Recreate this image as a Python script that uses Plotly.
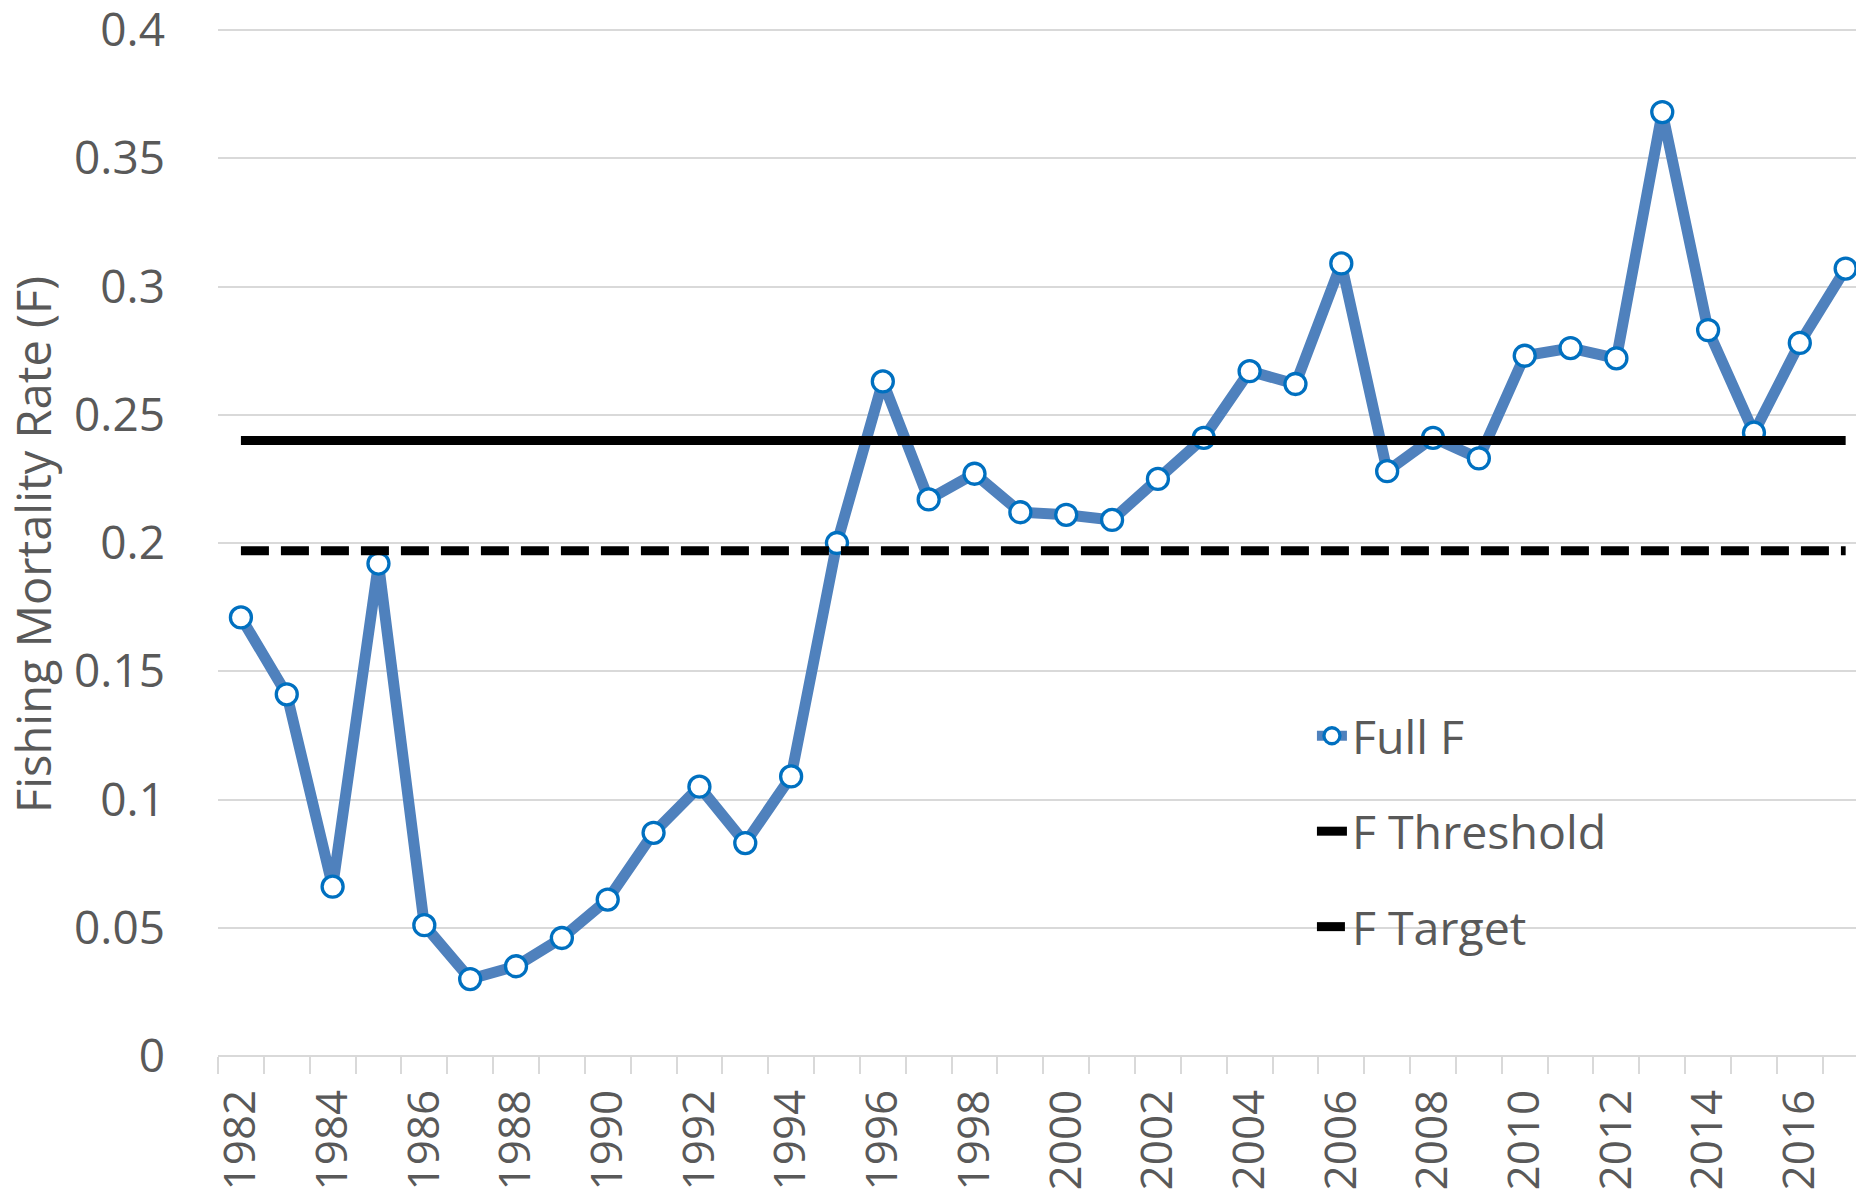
import plotly.graph_objects as go

years = list(range(1982, 2018))
full_f = [0.171, 0.141, 0.066, 0.192, 0.051, 0.030, 0.035, 0.046, 0.061, 0.087,
          0.105, 0.083, 0.109, 0.200, 0.263, 0.217, 0.227, 0.212, 0.211, 0.209,
          0.225, 0.241, 0.267, 0.262, 0.309, 0.228, 0.241, 0.233, 0.273, 0.276,
          0.272, 0.368, 0.283, 0.243, 0.278, 0.307]
f_threshold = [0.240] * len(years)
f_target = [0.197] * len(years)
tick_years = list(range(1982, 2017, 2))
y_ticks = [0, 0.05, 0.1, 0.15, 0.2, 0.25, 0.3, 0.35, 0.4]
y_tick_text = ["0", "0.05", "0.1", "0.15", "0.2", "0.25", "0.3", "0.35", "0.4"]
y_title = "Fishing Mortality Rate (F)"

FONT = "Open Sans"
TXT = "#595959"
GRID = "#D9D9D9"

fig = go.Figure()
fig.add_trace(go.Scatter(
    x=years, y=full_f, name="Full F", mode="lines+markers", legendgroup="a",
    line=dict(color="#4F81BD", width=11),
    marker=dict(symbol="circle", size=21, color="white",
                line=dict(color="#0070C0", width=3.3)),
    cliponaxis=False,
))
fig.add_trace(go.Scatter(
    x=years, y=f_threshold, name="F Threshold", mode="lines", legendgroup="b",
    line=dict(color="black", width=9),
))
fig.add_trace(go.Scatter(
    x=years, y=f_target, name="F Target", mode="lines", legendgroup="c",
    line=dict(color="black", width=9, dash="28px,12px"),
))

fig.update_layout(
    width=1856, height=1192,
    margin=dict(l=210, r=0, t=21, b=144, pad=0, autoexpand=False),
    paper_bgcolor="white", plot_bgcolor="white",
    font=dict(family=FONT, size=46, color=TXT),
    showlegend=True,
    legend=dict(x=0.6646, y=0.3476, xanchor="left", yanchor="top",
                font=dict(family=FONT, size=46.5, color=TXT),
                bgcolor="rgba(0,0,0,0)", tracegroupgap=32,
                traceorder="grouped"),
    xaxis=dict(
        automargin=False,
        range=[1981.5, 2017.4], tickmode="array", tickvals=tick_years,
        ticktext=[str(y) for y in tick_years], tickangle=-90, ticks="",
        showgrid=False, zeroline=False, showline=False,
        tickfont=dict(family=FONT, size=44, color=TXT),
        ticklabelstandoff=24, ticklabeloverflow="allow",
        minor=dict(tickmode="array", tickvals=[y - 0.5 for y in years] + [2017.5],
                   ticks="outside", ticklen=17, tickcolor=GRID, tickwidth=1.5,
                   showgrid=False),
    ),
    yaxis=dict(
        automargin=False,
        range=[0, 0.4004], tickmode="array", tickvals=y_ticks, ticktext=y_tick_text,
        ticks="", showgrid=True, gridcolor=GRID, gridwidth=1.5,
        zeroline=True, zerolinecolor=GRID, zerolinewidth=1.5, showline=False,
        tickfont=dict(family=FONT, size=46, color=TXT),
        ticklabelstandoff=52, ticklabeloverflow="allow",
    ),
    annotations=[dict(
        text=y_title, xref="paper", yref="paper", x=-0.1127, y=0.498,
        xanchor="center", yanchor="middle", textangle=-90, showarrow=False,
        font=dict(family=FONT, size=47, color=TXT),
    )],
)

fig.write_html("out.html")
